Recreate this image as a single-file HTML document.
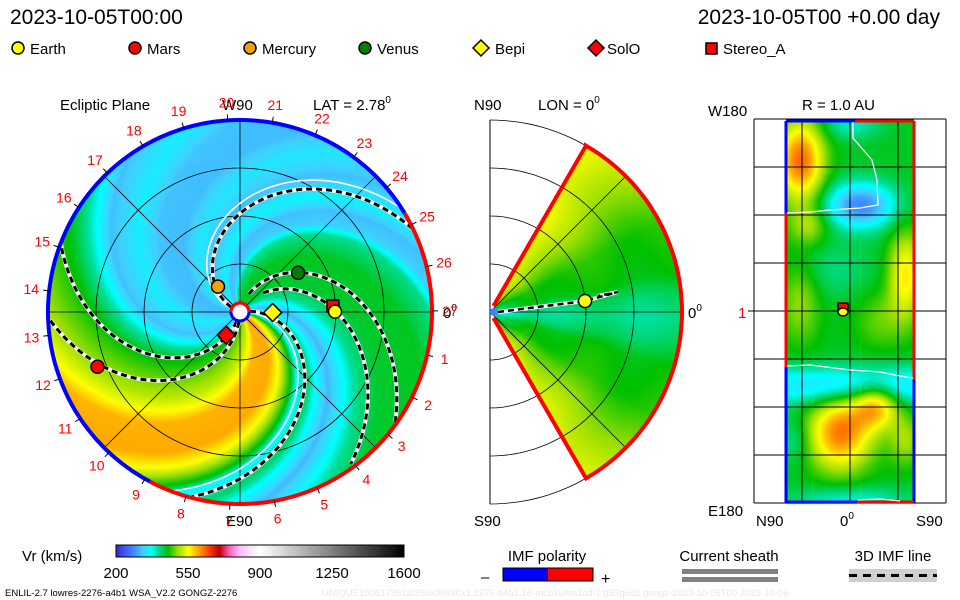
<!DOCTYPE html>
<html><head><meta charset="utf-8">
<style>
html,body{margin:0;padding:0;background:#fff;}
#wrap{position:relative;width:960px;height:600px;overflow:hidden;font-family:"Liberation Sans",sans-serif;}
canvas,svg{position:absolute;left:0;top:0;}
</style></head>
<body>
<div id="wrap">
<canvas id="cv" width="960" height="600"></canvas>
<svg id="sv" width="960" height="600" xmlns="http://www.w3.org/2000/svg" font-family="Liberation Sans, sans-serif">
  <text x="10" y="24" font-size="21">2023-10-05T00:00</text>
  <text x="940" y="24" font-size="21" text-anchor="end">2023-10-05T00 +0.00 day</text>
  <g font-size="15">
    <g><circle cx="18" cy="48" r="6" fill="#ffff00" stroke="#000" stroke-width="1.5"/><text x="30" y="54">Earth</text></g>
    <g><circle cx="135" cy="48" r="6" fill="#ff0000" stroke="#000" stroke-width="1.5"/><text x="147" y="54">Mars</text></g>
    <g><circle cx="250" cy="48" r="6" fill="#f0a000" stroke="#000" stroke-width="1.5"/><text x="262" y="54">Mercury</text></g>
    <g><circle cx="365" cy="48" r="6" fill="#008000" stroke="#000" stroke-width="1.5"/><text x="377" y="54">Venus</text></g>
    <g><path d="M481 40 L489 48 L481 56 L473 48 Z" fill="#ffff00" stroke="#000" stroke-width="1.5"/><text x="495" y="54">Bepi</text></g>
    <g><path d="M596 40 L604 48 L596 56 L588 48 Z" fill="#ff0000" stroke="#000" stroke-width="1.5"/><text x="607" y="54">SolO</text></g>
    <g><rect x="706" y="43" width="11" height="11" fill="#ff0000" stroke="#000" stroke-width="1.5"/><text x="723" y="54">Stereo_A</text></g>
  </g>
  <g font-size="15">
    <text x="60" y="110">Ecliptic Plane</text>
    <text x="222" y="110">W90</text>
    <text x="313" y="110">LAT = 2.78<tspan font-size="10" dy="-7">0</tspan></text>
    <text x="474" y="110">N90</text>
    <text x="538" y="110">LON = 0<tspan font-size="10" dy="-7">0</tspan></text>
    <text x="708" y="116">W180</text>
    <text x="802" y="110">R = 1.0 AU</text>
    <text x="474" y="526">S90</text>
    <text x="226" y="526">E90</text>
    <text x="708" y="516">E180</text>
    <text x="756" y="526">N90</text>
    <text x="840" y="526">0<tspan font-size="10" dy="-7">0</tspan></text>
    <text x="916" y="526">S90</text>
    <text x="443" y="318">0<tspan font-size="10" dy="-7">0</tspan></text>
    <text x="688" y="318">0<tspan font-size="10" dy="-7">0</tspan></text>
    <text x="738" y="318" fill="#ff0000">1</text>
  </g>
  <g id="ecl"></g>
  <g id="mer"></g>
  <g id="rad"></g>
  <g>
    <text x="22" y="561" font-size="15">Vr (km/s)</text>
    <g id="cbar"></g>
    <rect x="116" y="545" width="288" height="12" fill="none" stroke="#000" stroke-width="1"/>
    <g font-size="15" text-anchor="middle" id="cbticks"></g>
  </g>
  <g>
    <text x="547" y="561" font-size="15" text-anchor="middle">IMF polarity</text>
    <rect x="503" y="568" width="45" height="13" fill="#0000ff"/>
    <rect x="548" y="568" width="45" height="13" fill="#ff0000"/>
    <rect x="503" y="568" width="90" height="13" fill="none" stroke="#000"/>
    <text x="481" y="582" font-size="15">–</text>
    <text x="601" y="584" font-size="16">+</text>
  </g>
  <g>
    <text x="729" y="561" font-size="15" text-anchor="middle">Current sheath</text>
    <rect x="682" y="569" width="96" height="5" fill="#808080"/>
    <rect x="682" y="577" width="96" height="5" fill="#808080"/>
  </g>
  <g>
    <text x="893" y="561" font-size="15" text-anchor="middle">3D IMF line</text>
    <rect x="849" y="569" width="88" height="13" fill="#d0d0d0"/>
    <line x1="849" y1="575.5" x2="937" y2="575.5" stroke="#000" stroke-width="3" stroke-dasharray="8,6"/>
  </g>
  <text x="5" y="596" font-size="9.5">ENLIL-2.7 lowres-2276-a4b1 WSA_V2.2 GONGZ-2276</text>
  <text x="322" y="596" font-size="9.5" fill="#e8e8e8">UNIQUE1006173512/256x30x90x1.2276-a4b1.16-mcp1umn1cd-1.g53q5d2.gongz-2023-10-05T00    2023-10-06</text>
</svg>
</div>
<script>
// ---------- data ----------
const speedStops = [200,250,300,330,370,400,450,500,550,600,650,700,750,800,900,1600];
const speedColors = ["#3030c0","#4060ff","#40a0ff","#40d0ff","#00ffff","#00e0a0","#00c000","#a0e000","#ffff00","#ffa000","#ff4000","#c00000","#ff60c0","#ffc0ff","#ffffff","#000000"];
const cbTickLabels = [200,550,900,1250,1600];
// ecliptic solar wind pattern vs spiral phase (deg)
const psiStops = [0,8,15,25,35,45,60,90,108,116,126,135,150,165,180,200,215,235,250,262,278,292,302,312,332,342,349,355,360];
const psiSpeed = [360,420,370,315,360,405,435,440,405,330,320,360,320,350,318,322,355,320,400,445,480,510,545,590,595,550,490,440,360];
// bodies in ecliptic
const bodyNames = ["earth","mars","mercury","venus","bepi","solo","stereo-a"];
const bodyAU = [0.99,1.59,0.35,0.73,0.34,0.28,0.97];
const bodyLon = [0.2,201,131,34,-1,239,3.7];
// IMF field lines: start longitude, winding deg/px, radius range px
const lineTheta0 = [10,75,57,158,255,268];
const lineK = [0.6,0.58,0.59,0.69,0.5,0.45];
const lineRmin = [10,20,30,10,10,10];
const lineRmax = [192,190,188,192,192,190];
const sheathTheta0 = [4,165];
const sheathK = [0.6,0.69];
// meridional latitude profile
const latStops = [0,8,15,30,42,52,60];
const latSpeed = [405,420,448,458,490,515,535];
// radial map blobs: x, y, sx, sy, amplitude
const blobX = [800,808,860,830,905,800,880,850,840,875,905,850,795,850];
const blobY = [160,225,205,270,275,300,320,385,432,405,440,500,440,125];
const blobSX = [16,14,24,30,12,14,18,90,22,16,12,40,10,20];
const blobSY = [28,14,16,20,30,30,20,14,26,16,18,10,16,10];
const blobAmp = [190,60,-160,-30,120,60,40,-110,180,150,60,-60,-40,-50];

// ---------- helpers ----------
function hex(c){return [parseInt(c.slice(1,3),16),parseInt(c.slice(3,5),16),parseInt(c.slice(5,7),16)];}
const pal = speedColors.map(hex);
function colorOf(v){
  if(v<=speedStops[0]) return pal[0];
  for(let i=1;i<speedStops.length;i++){
    if(v<=speedStops[i]){const t=(v-speedStops[i-1])/(speedStops[i]-speedStops[i-1]);
      const a=pal[i-1],b=pal[i];return [a[0]+(b[0]-a[0])*t,a[1]+(b[1]-a[1])*t,a[2]+(b[2]-a[2])*t];}
  }
  return pal[pal.length-1];
}
function interp(xs,ys,x){
  if(x<=xs[0])return ys[0];
  for(let i=1;i<xs.length;i++) if(x<=xs[i]) return ys[i-1]+(ys[i]-ys[i-1])*(x-xs[i-1])/(xs[i]-xs[i-1]);
  return ys[ys.length-1];
}
const NS="http://www.w3.org/2000/svg";
function mk(tag,attrs,parent){const e=document.createElementNS(NS,tag);for(const k in attrs)e.setAttribute(k,attrs[k]);parent.appendChild(e);return e;}
const D=Math.PI/180;

const ECX=240, ECY=312, ECR=192, AUPX=96;
function ex(r,th){return ECX+r*Math.cos(th*D);}
function ey(r,th){return ECY-r*Math.sin(th*D);}
const MCX=490, MCY=312, MR=192;
const RX0=786,RX1=914,RY0=121,RY1=503;

// ---------- canvas fields ----------
const cv=document.getElementById('cv'),ctx=cv.getContext('2d');
const img=ctx.createImageData(960,600),px=img.data;
function put(x,y,c){const i=(y*960+x)*4;px[i]=c[0];px[i+1]=c[1];px[i+2]=c[2];px[i+3]=255;}
for(let i=0;i<px.length;i++)px[i]=255;
for(let y=ECY-ECR;y<=ECY+ECR;y++)for(let x=ECX-ECR;x<=ECX+ECR;x++){
  const dx=x-ECX,dy=ECY-y,r=Math.hypot(dx,dy); if(r>ECR) continue;
  let th=Math.atan2(dy,dx)/D; let psi=((th+0.57*r)%360+360)%360;
  put(x,y,colorOf(interp(psiStops,psiSpeed,psi)));
}
for(let y=MCY-MR;y<=MCY+MR;y++)for(let x=MCX;x<=MCX+MR;x++){
  const dx=x-MCX,dy=MCY-y,r=Math.hypot(dx,dy); if(r>MR||r<6) continue;
  const lat=Math.atan2(dy,dx)/D; if(Math.abs(lat)>60) continue;
  let v=interp(latStops,latSpeed,Math.abs(lat+2))+6*Math.sin(r/14)+(r<40?-(40-r)*1.5:0);
  put(x,y,colorOf(v));
}
for(let y=RY0;y<=RY1;y++)for(let x=RX0;x<=RX1;x++){
  let v=440;
  for(let b=0;b<blobX.length;b++){const u=(x-blobX[b])/blobSX[b],w=(y-blobY[b])/blobSY[b];v+=blobAmp[b]*Math.exp(-(u*u+w*w)/2);}
  put(x,y,colorOf(v));
}
ctx.putImageData(img,0,0);

// ---------- colorbar ----------
const cbar=document.getElementById('cbar');
for(let i=0;i<288;i++){const v=200+1400*i/288;const c=colorOf(v);
  const r=mk('rect',{x:116+i,y:545,width:1.2,height:12,fill:`rgb(${c[0]|0},${c[1]|0},${c[2]|0})`},cbar);
  
  }
const cbt=document.getElementById('cbticks');
cbTickLabels.forEach(v=>{const t=mk('text',{x:116+288*(v-200)/1400,y:578},cbt);t.textContent=v;
  
  });

// ---------- ecliptic overlay ----------
const ecl=document.getElementById('ecl');
[48,96,144].forEach(r=>{const c=mk('circle',{cx:ECX,cy:ECY,r:r,fill:'none',stroke:'#000','stroke-width':0.8},ecl);
  
  });
[0,45,90,135].forEach(a=>{const l=mk('line',{x1:ex(ECR,a),y1:ey(ECR,a),x2:ex(ECR,a+180),y2:ey(ECR,a+180),stroke:'#000','stroke-width':0.8},ecl);
  
  });
function spiralPath(t0,k,r0,r1){let d='';for(let r=r0;r<=r1;r+=2){const th=t0-k*r;d+=(d?'L':'M')+ex(r,th).toFixed(1)+' '+ey(r,th).toFixed(1);}return d;}
for(let i=0;i<sheathTheta0.length;i++){
  const p=mk('path',{d:spiralPath(sheathTheta0[i],sheathK[i],14,192),fill:'none',stroke:'#fff','stroke-width':1.6},ecl);
  
  
}
for(let i=0;i<lineTheta0.length;i++){
  const d=spiralPath(lineTheta0[i],lineK[i],lineRmin[i],lineRmax[i]);
  const w=mk('path',{d:d,fill:'none',stroke:'#fff','stroke-width':4},ecl);
  
  
  const b=mk('path',{d:d,fill:'none',stroke:'#000','stroke-width':3,'stroke-dasharray':'6,4'},ecl);
  
  
}
function arc(r,a0,a1){let d='';const n=Math.ceil(Math.abs(a1-a0));for(let i=0;i<=n;i++){const a=a0+(a1-a0)*i/n;d+=(i?'L':'M')+ex(r,a).toFixed(1)+' '+ey(r,a).toFixed(1);}return d;}
let e1=mk('path',{d:arc(ECR,31,242-360),fill:'none',stroke:'#ff0000','stroke-width':4},ecl);


let e2=mk('path',{d:arc(ECR,242,31),fill:'none',stroke:'#0000ff','stroke-width':4},ecl);


for(let n=1;n<=27;n++){const a=-13-(n-1)*360/27;
  const tk=mk('line',{x1:ex(ECR,a),y1:ey(ECR,a),x2:ex(ECR+6,a),y2:ey(ECR+6,a),stroke:'#000','stroke-width':1},ecl);
  
  
  const t=mk('text',{x:ex(210,a),y:ey(210,a)+5,'font-size':14,fill:'#ff0000','text-anchor':'middle'},ecl);t.textContent=n;
  
  }
let sun=mk('circle',{cx:ECX,cy:ECY,r:9,fill:'#fff',stroke:'#0000ff','stroke-width':3},ecl);


let sunt=mk('path',{d:arc(9,0,180),fill:'none',stroke:'#ff0000','stroke-width':3},ecl);


function marker(name,x,y,parent){
  let e;
  if(name==='bepi'||name==='solo'){const f=name==='bepi'?'#ffff00':'#ff0000';e=mk('path',{d:`M${x} ${y-9}L${x+9} ${y}L${x} ${y+9}L${x-9} ${y}Z`,fill:f,stroke:'#000','stroke-width':1.5},parent);}
  else if(name==='stereo-a'){e=mk('rect',{x:x-6,y:y-6,width:12,height:12,fill:'#ff0000',stroke:'#000','stroke-width':1.5},parent);}
  else{const f={earth:'#ffff00',mars:'#ff0000',mercury:'#f0a000',venus:'#008000'}[name];e=mk('circle',{cx:x,cy:y,r:6.5,fill:f,stroke:'#000','stroke-width':1.5},parent);}
  return e;
}
const order=[6,0,1,2,3,4,5];
order.forEach(i=>{const r=bodyAU[i]*AUPX,a=bodyLon[i];
  const m=marker(bodyNames[i],ex(r,a),ey(r,a),ecl);
  
  });

// ---------- meridional overlay ----------
const mer=document.getElementById('mer');
function mx(r,a){return MCX+r*Math.cos(a*D);} function my(r,a){return MCY-r*Math.sin(a*D);}
[48,96,144,192].forEach(r=>{let d='';for(let a=90;a>=-90;a-=2)d+=(a==90?'M':'L')+mx(r,a).toFixed(1)+' '+my(r,a).toFixed(1);
  const p=mk('path',{d:d,fill:'none',stroke:'#000','stroke-width':0.8},mer);
  
  });
let ax=mk('line',{x1:MCX,y1:MCY-MR,x2:MCX,y2:MCY+MR,stroke:'#000','stroke-width':1},mer);


[45,0,-45].forEach(a=>{const l=mk('line',{x1:MCX,y1:MCY,x2:mx(MR,a),y2:my(MR,a),stroke:'#000','stroke-width':0.8},mer);
  
  });
let wd='M'+mx(7,60)+' '+my(7,60)+'L'+mx(MR,60)+' '+my(MR,60);
for(let a=60;a>=-60;a-=2)wd+='L'+mx(MR,a).toFixed(1)+' '+my(MR,a).toFixed(1);
wd+='L'+mx(7,-60)+' '+my(7,-60);
let wb=mk('path',{d:wd,fill:'none',stroke:'#ff0000','stroke-width':4},mer);


let ap=mk('circle',{cx:MCX+4,cy:MCY,r:4,fill:'#4080ff'},mer);


const imfMer='M'+mx(8,0)+' '+my(8,0)+'L585 301L618 292L598 296';
let m1=mk('path',{d:imfMer,fill:'none',stroke:'#fff','stroke-width':4},mer);


let m2=mk('path',{d:imfMer,fill:'none',stroke:'#000','stroke-width':2.5,'stroke-dasharray':'6,4'},mer);


let me=marker('earth',585,301,mer);



// ---------- radial map overlay ----------
const rad=document.getElementById('rad');
for(let i=0;i<=4;i++){const x=754+48*i;const l=mk('line',{x1:x,y1:119,x2:x,y2:503,stroke:'#000','stroke-width':1},rad);
  
  }
for(let i=0;i<=8;i++){const y=119+48*i;const l=mk('line',{x1:754,y1:y,x2:946,y2:y,stroke:'#000','stroke-width':1},rad);
  
  }
let tk1=mk('line',{x1:748,y1:311,x2:754,y2:311,stroke:'#000'},rad);


const segs=[[786,121,855,121,'#0000ff'],[855,121,914,121,'#ff0000'],[786,121,786,213,'#0000ff'],[786,213,786,367,'#ff0000'],[786,367,786,503,'#0000ff'],
  [914,121,914,380,'#ff0000'],[914,380,914,503,'#0000ff'],[786,502,857,502,'#0000ff'],[857,502,914,502,'#ff0000']];
segs.forEach(s=>{const l=mk('line',{x1:s[0],y1:s[1],x2:s[2],y2:s[3],stroke:s[4],'stroke-width':3},rad);
  
  });
let c1=mk('path',{d:'M853 122L853 138L872 160L877 180L878 205L860 208L830 210L810 212L787 213',fill:'none',stroke:'#fff','stroke-width':1.3},rad);


let c2=mk('path',{d:'M787 366L810 365L850 370L880 372L900 376L913 378',fill:'none',stroke:'#fff','stroke-width':1.3},rad);


let c3=mk('path',{d:'M858 500L880 499L900 501',fill:'none',stroke:'#fff','stroke-width':1.3},rad);


let rs=mk('rect',{x:838,y:303,width:10,height:8,fill:'#ff0000',stroke:'#000','stroke-width':1.5},rad);


let re=mk('ellipse',{cx:843,cy:312,rx:5,ry:4,fill:'#ffff00',stroke:'#000','stroke-width':1.5},rad);


</script>
</body></html>
